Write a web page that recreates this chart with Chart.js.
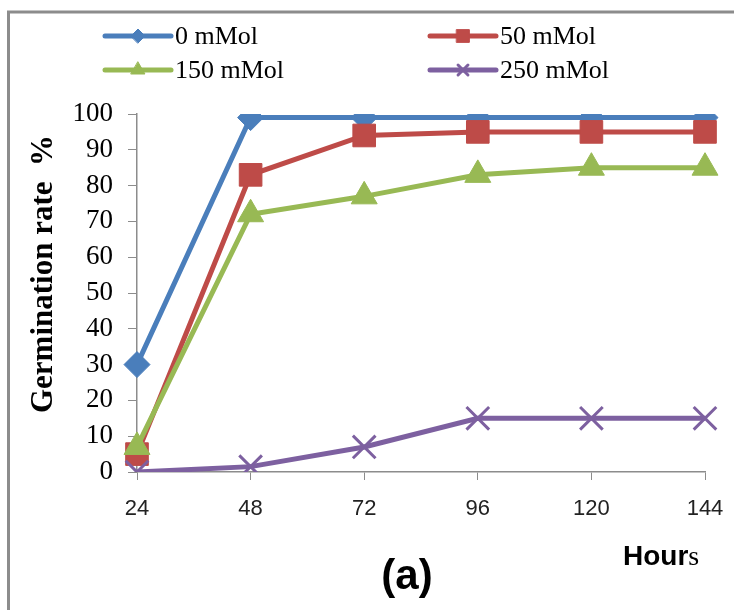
<!DOCTYPE html>
<html>
<head>
<meta charset="utf-8">
<script src="https://cdn.jsdelivr.net/npm/chart.js@4/dist/chart.umd.min.js"></script>
<style>
  html, body { margin: 0; padding: 0; background: #fff; }
  #wrap { width: 734px; height: 610px; }
</style>
</head>
<body>
<div id="wrap"><canvas id="chartGerminacao" width="734" height="610"></canvas></div>
<script>
// dados
const horas = ['24', '48', '72', '96', '120', '144'];
const series = ['0 mMol', '50 mMol', '150 mMol', '250 mMol'];
const mMol0 = [30, 99, 99, 99, 99, 99];
const mMol50 = [5, 83, 94, 95, 95, 95];
const mMol150 = [7, 72, 77, 83, 85, 85];
const mMol250 = [0, 1.5, 7, 15, 15, 15];

const cores = ['#4a7ebb', '#be4b48', '#98b954', '#7d60a0'];
const estilos = ['rectRot', 'rect', 'triangle', 'crossRot'];
const raios = [13, 16, 15, 16];
const raiosLegenda = [7, 9, 8, 7];

// legenda, rótulos e moldura desenhados à mão
const extras = {
    id: 'extras',
    afterDraw(chart) {
        const ctx = chart.ctx;
        ctx.save();

        // moldura cinza (topo e esquerda)
        ctx.strokeStyle = '#8c8c8c';
        ctx.lineWidth = 3;
        ctx.beginPath();
        ctx.moveTo(8.5, 610);
        ctx.lineTo(8.5, 12);
        ctx.lineTo(734, 12);
        ctx.stroke();

        // legenda em duas colunas
        const colX = [105, 430];
        const rowY = [36, 70];
        chart.data.datasets.forEach((ds, i) => {
            const x0 = colX[i % 2];
            const y = rowY[Math.floor(i / 2)];
            ctx.strokeStyle = ds.borderColor;
            ctx.lineWidth = 5;
            ctx.lineCap = 'round';
            ctx.beginPath();
            ctx.moveTo(x0, y);
            ctx.lineTo(x0 + 66, y);
            ctx.stroke();
            ctx.fillStyle = ds.pointBackgroundColor;
            ctx.strokeStyle = ds.pointBorderColor;
            ctx.lineWidth = ds.pointBorderWidth;
            Chart.helpers.drawPoint(ctx, {
                pointStyle: ds.pointStyle,
                radius: raiosLegenda[i],
                borderWidth: ds.pointBorderWidth,
                rotation: 0
            }, x0 + 33, y);
            ctx.fillStyle = '#000';
            ctx.font = '26px "Liberation Serif"';
            ctx.textAlign = 'left';
            ctx.textBaseline = 'middle';
            ctx.fillText(ds.label, x0 + 70, y + 1);
        });

        // título do eixo Y
        ctx.save();
        ctx.translate(44, 274);
        ctx.rotate(-Math.PI / 2);
        ctx.fillStyle = '#000';
        ctx.font = 'bold 31px "Liberation Serif"';
        ctx.textAlign = 'center';
        ctx.textBaseline = 'middle';
        ctx.fillText('Germination rate  %', 0, 0);
        ctx.restore();

        // "Hours"
        ctx.fillStyle = '#000';
        ctx.textAlign = 'left';
        ctx.textBaseline = 'alphabetic';
        ctx.font = 'bold 28px "Liberation Sans"';
        ctx.fillText('Hour', 623, 565);
        const w = ctx.measureText('Hour').width;
        ctx.font = '28px "Liberation Serif"';
        ctx.fillText('s', 623 + w, 565);

        // "(a)"
        ctx.font = 'bold 42px "Liberation Sans"';
        ctx.textAlign = 'center';
        ctx.textBaseline = 'middle';
        ctx.fillText('(a)', 407, 577);

        ctx.restore();
    }
};

function montarDataset(i, dados) {
    return {
        label: series[i],
        data: dados,
        borderColor: cores[i],
        backgroundColor: cores[i],
        borderWidth: 5,
        pointStyle: estilos[i],
        pointRadius: raios[i],
        pointHoverRadius: raios[i],
        pointBackgroundColor: cores[i],
        pointBorderColor: cores[i],
        pointBorderWidth: i === 3 ? 3 : 1,
        tension: 0,
        order: 3 - i
    };
}

const ctxLinha = document.getElementById('chartGerminacao').getContext('2d');
new Chart(ctxLinha, {
    type: 'line',
    data: {
        labels: horas,
        datasets: [
            montarDataset(0, mMol0),
            montarDataset(1, mMol50),
            montarDataset(2, mMol150),
            montarDataset(3, mMol250)
        ]
    },
    options: {
        responsive: false,
        animation: false,
        layout: { padding: { left: 0, top: 114, right: 29, bottom: 0 } },
        plugins: {
            legend: { display: false },
            tooltip: { enabled: false }
        },
        scales: {
            x: {
                offset: false,
                grid: { drawOnChartArea: false, drawTicks: true, tickLength: 8, color: '#8c8c8c' },
                border: { color: '#8c8c8c', width: 1.5 },
                ticks: {
                    color: '#222',
                    padding: 16,
                    maxRotation: 0,
                    font: { family: '"Liberation Sans"', size: 22 }
                },
                afterFit(scale) {
                    scale.height = 138;
                    scale.paddingLeft = 0;
                    scale.paddingRight = 0;
                }
            },
            y: {
                min: 0,
                max: 100,
                grid: { drawOnChartArea: false, drawTicks: true, tickLength: 9, color: '#8c8c8c' },
                border: { color: '#8c8c8c', width: 1.5 },
                ticks: {
                    stepSize: 10,
                    color: '#000',
                    padding: 15,
                    font: { family: '"Liberation Serif"', size: 27 }
                },
                afterFit(scale) {
                    scale.width = 137;
                    scale.paddingTop = 0;
                    scale.paddingBottom = 0;
                }
            }
        }
    },
    plugins: [extras]
});
</script>
</body>
</html>
